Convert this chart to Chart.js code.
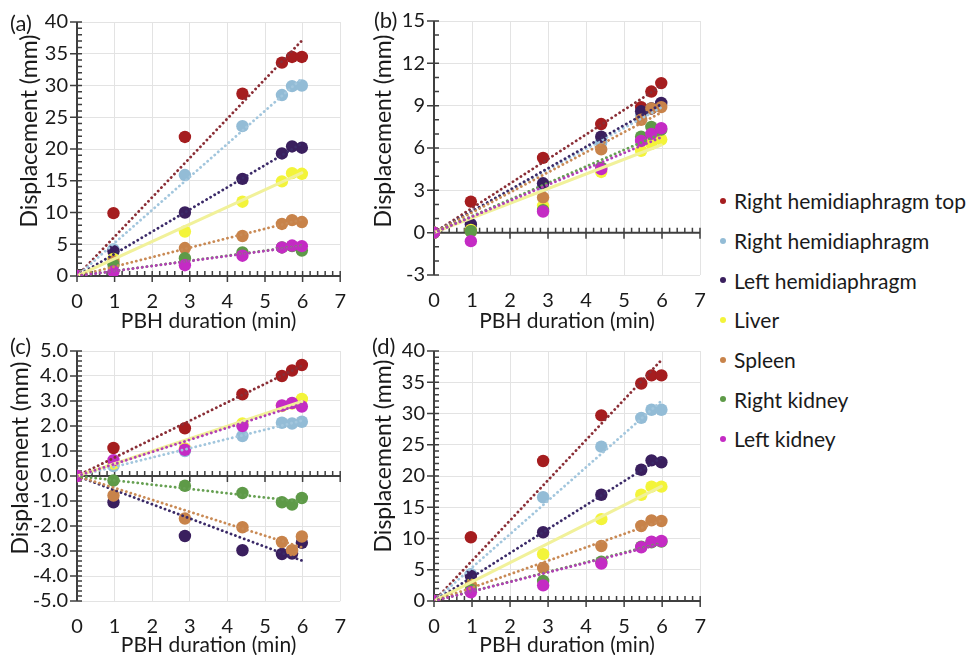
<!DOCTYPE html>
<html>
<head>
<meta charset="utf-8">
<script src="https://cdn.jsdelivr.net/npm/chart.js@4.4.1/dist/chart.umd.min.js"></script>
<style>
    body { margin: 0; background: #fff; width: 970px; height: 655px; overflow: hidden; position: relative; font-family: Lato, sans-serif; }
    .panel { position: absolute; }
    #legend { position: absolute; left: 720px; top: 181px; }
    .item { height: 39.7px; display: flex; align-items: center; font-size: 21px; color: #1a1a1a; white-space: nowrap; }
    .dot { width: 6px; height: 6px; border-radius: 50%; margin-right: 8px; flex: none; }
</style>
</head>
<body>
<div class="panel" style="left:0;top:0"><canvas id="chartA" width="360" height="340"></canvas></div>
<div class="panel" style="left:360px;top:0"><canvas id="chartB" width="360" height="340"></canvas></div>
<div class="panel" style="left:0;top:330px"><canvas id="chartC" width="360" height="325"></canvas></div>
<div class="panel" style="left:360px;top:330px"><canvas id="chartD" width="360" height="325"></canvas></div>
<div id="legend"></div>
<script>
// organ names (legend order) and colours
const seriesNames = ['Right hemidiaphragm top', 'Right hemidiaphragm', 'Left hemidiaphragm', 'Liver', 'Spleen', 'Right kidney', 'Left kidney'];
const pointColors = ['#a51d1f', '#93bcd6', '#3a1f5e', '#f3f43a', '#c8834a', '#5e9a48', '#c42bc4'];
const lineColors = ['#8a2e36', '#a2c6dd', '#3b2a68', '#f1f19a', '#c98a55', '#66a052', '#b23fb6'];

// PBH duration (min) of each measurement
const pbhMinutes = [0, 0.97, 2.87, 4.4, 5.45, 5.72, 5.98];

// displacement (mm), one row per organ, in seriesNames order
const dispA = [
    [0, 9.9, 21.9, 28.7, 33.6, 34.5, 34.5],
    [0, 4.2, 15.9, 23.6, 28.5, 29.9, 30.0],
    [0, 3.9, 10.0, 15.3, 19.3, 20.4, 20.2],
    [0, 2.7, 7.0, 11.7, 14.9, 16.2, 16.1],
    [0, 2.3, 4.4, 6.3, 8.2, 8.8, 8.5],
    [0, 1.8, 2.8, 3.7, 4.5, 4.7, 4.0],
    [0, 0.7, 1.7, 3.2, 4.5, 4.8, 4.7]
];
const dispB = [
    [0, 2.2, 5.3, 7.7, 8.9, 10.0, 10.6],
    [0, 0.4, 3.3, 6.4, 8.3, 8.8, 9.1],
    [0, 0.6, 3.5, 6.8, 8.6, 8.8, 9.2],
    [0, 0.2, 1.9, 4.3, 5.8, 6.3, 6.6],
    [0, 0.1, 2.5, 5.9, 8.0, 8.8, 8.9],
    [0, 0.1, 1.6, 4.6, 6.8, 7.5, 7.3],
    [0, -0.6, 1.5, 4.5, 6.5, 7.0, 7.4]
];
const dispC = [
    [0, 1.12, 1.91, 3.27, 4.0, 4.22, 4.44],
    [0, 0.4, 1.0, 1.6, 2.13, 2.1, 2.17],
    [0, -1.05, -2.4, -2.97, -3.12, -3.1, -2.67],
    [0, 0.5, 1.1, 2.1, 2.8, 2.9, 3.08],
    [0, -0.78, -1.7, -2.05, -2.64, -2.97, -2.42],
    [0, -0.18, -0.39, -0.68, -1.05, -1.14, -0.88],
    [0, 0.63, 1.05, 2.0, 2.82, 2.92, 2.78]
];
const dispD = [
    [0, 10.2, 22.4, 29.7, 34.8, 36.1, 36.1],
    [0, 4.3, 16.6, 24.7, 29.3, 30.6, 30.6],
    [0, 4.0, 11.0, 17.0, 21.0, 22.5, 22.2],
    [0, 2.6, 7.5, 13.1, 17.0, 18.3, 18.3],
    [0, 2.5, 5.3, 8.8, 12.0, 12.9, 12.8],
    [0, 1.8, 3.2, 6.3, 8.7, 9.4, 9.5],
    [0, 1.4, 2.5, 6.0, 8.6, 9.5, 9.6]
];

// y axis ranges per panel: [min, max, major step, minor step]
const yAxisA = [0, 40, 5, 1];
const yAxisB = [-3, 15, 3, 1];
const yAxisC = [-5, 5, 1, 0.2];
const yAxisD = [0, 40, 5, 1];
const xAxisRange = [0, 7, 1, 0.2];

// least squares line through the origin, like the Excel trendline
function slopeThroughOrigin(xs, ys) {
    let sxy = 0, sxx = 0;
    xs.forEach((x, i) => { sxy += x * ys[i]; sxx += x * x; });
    return sxy / sxx;
}

// draws the Excel style axes crossing at zero, with minor ticks
const zeroAxes = {
    id: 'zeroAxes',
    beforeDatasetsDraw(chart, args, opts) {
        const { ctx, chartArea } = chart;
        const xs = chart.scales.x, ys = chart.scales.y;
        const x0 = xs.getPixelForValue(0), y0 = ys.getPixelForValue(0);
        const [ymin, ymax, ymaj, ymin2] = opts.yAxis;
        const [xmin, xmax, xmaj, xmin2] = xAxisRange;
        ctx.save();
        ctx.strokeStyle = '#3f3f3f';
        ctx.lineWidth = 2;
        ctx.beginPath();
        ctx.moveTo(x0, chartArea.top); ctx.lineTo(x0, chartArea.bottom);
        ctx.moveTo(chartArea.left, y0); ctx.lineTo(chartArea.right, y0);
        ctx.stroke();
        ctx.lineWidth = 1.5;
        ctx.beginPath();
        let n = Math.round((ymax - ymin) / ymin2);
        let per = Math.round(ymaj / ymin2);
        for (let i = 0; i <= n; i++) {
            const py = ys.getPixelForValue(ymin + i * ymin2);
            ctx.moveTo(i % per === 0 ? x0 - 7 : x0, py);
            ctx.lineTo(x0 + 5, py);
        }
        n = Math.round((xmax - xmin) / xmin2);
        per = Math.round(xmaj / xmin2);
        for (let i = 0; i <= n; i++) {
            const px = xs.getPixelForValue(xmin + i * xmin2);
            ctx.moveTo(px, y0 - 5);
            ctx.lineTo(px, i % per === 0 ? y0 + 6 : y0);
        }
        ctx.stroke();
        ctx.restore();
    },
    afterDraw(chart, args, opts) {
        const { ctx } = chart;
        ctx.save();
        ctx.fillStyle = '#1a1a1a';
        ctx.font = '22px Lato';
        ctx.textBaseline = 'middle';
        ctx.textAlign = 'left';
        ctx.fillText(opts.label, opts.labelX, opts.labelY);
        ctx.translate(opts.titleX, opts.titleY);
        ctx.rotate(-Math.PI / 2);
        ctx.textAlign = 'center';
        ctx.font = '23px Lato';
        ctx.fillText('Displacement (mm)', 0, 0);
        ctx.restore();
    }
};

function makePanel(canvasId, disp, yAxis, layout, text) {
    const datasets = [];
    disp.forEach((ys, i) => {
        const slope = slopeThroughOrigin(pbhMinutes, ys);
        const last = pbhMinutes[pbhMinutes.length - 1];
        datasets.push({
            type: 'line',
            label: seriesNames[i] + ' trend',
            data: [{ x: 0, y: 0 }, { x: last, y: slope * last }],
            borderColor: lineColors[i],
            borderWidth: i === 3 ? 3 : 2.8,
            borderDash: i === 3 ? [] : [0.1, 4.6],
            borderCapStyle: 'round',
            pointRadius: 0,
            order: 7 - i,
        });
        datasets.push({
            type: 'scatter',
            label: seriesNames[i],
            data: pbhMinutes.map((x, k) => ({ x: x, y: ys[k] })),
            backgroundColor: pointColors[i],
            borderWidth: 0,
            pointRadius: 6.2,
            pointHoverRadius: 6.2,
            order: 20 - i,
        });
    });

    return new Chart(document.getElementById(canvasId), {
        type: 'scatter',
        data: { datasets: datasets },
        options: {
            responsive: false,
            animation: false,
            events: [],
            layout: { padding: layout.padding },
            plugins: {
                legend: { display: false },
                tooltip: { enabled: false },
                zeroAxes: Object.assign({ yAxis: yAxis }, text),
            },
            scales: {
                x: {
                    type: 'linear',
                    min: xAxisRange[0],
                    max: xAxisRange[1],
                    border: { display: false },
                    grid: { color: '#e3e3e3', drawTicks: false },
                    ticks: { stepSize: xAxisRange[2], autoSkip: false, padding: 14, color: '#1a1a1a', font: { family: 'Lato', size: 20 } },
                    title: { display: true, text: 'PBH duration (min)', color: '#1a1a1a', font: { family: 'Lato', size: 21 }, padding: { top: 0, bottom: layout.titlePad } },
                    afterFit: s => { s.height = layout.xHeight; },
                },
                y: {
                    min: yAxis[0],
                    max: yAxis[1],
                    border: { display: false },
                    grid: { color: '#e3e3e3', drawTicks: false },
                    ticks: {
                        stepSize: yAxis[2],
                        autoSkip: false,
                        padding: 9,
                        color: '#1a1a1a',
                        font: { family: 'Lato', size: 20 },
                        callback: v => yAxis[3] < 1 ? v.toFixed(1) : String(v),
                    },
                    afterFit: s => { s.width = layout.yWidth; },
                },
            },
        },
        plugins: [zeroAxes],
    });
}

makePanel('chartA', dispA, yAxisA,
    { padding: { top: 22, right: 10, bottom: 0, left: 0 }, yWidth: 77, xHeight: 64, titlePad: 6 },
    { label: '(a)', labelX: 10, labelY: 24, titleX: 30, titleY: 131 });
makePanel('chartB', dispB, yAxisB,
    { padding: { top: 20, right: 20, bottom: 0, left: 0 }, yWidth: 74, xHeight: 65, titlePad: 6 },
    { label: '(b)', labelX: 14, labelY: 21, titleX: 24, titleY: 131 });
makePanel('chartC', dispC, yAxisC,
    { padding: { top: 16, right: 10, bottom: 0, left: 0 }, yWidth: 77, xHeight: 54, titlePad: -3 },
    { label: '(c)', labelX: 10, labelY: 17, titleX: 21, titleY: 128 });
makePanel('chartD', dispD, yAxisD,
    { padding: { top: 16, right: 13, bottom: 0, left: 0 }, yWidth: 74, xHeight: 54, titlePad: -3 },
    { label: '(d)', labelX: 12, labelY: 17, titleX: 24, titleY: 126 });

// legend built from the series names
const legend = document.getElementById('legend');
seriesNames.forEach((name, i) => {
    const row = document.createElement('div');
    row.className = 'item';
    row.innerHTML = '<span class="dot" style="background:' + pointColors[i] + '"></span>' + name;
    legend.appendChild(row);
});
</script>
</body>
</html>
